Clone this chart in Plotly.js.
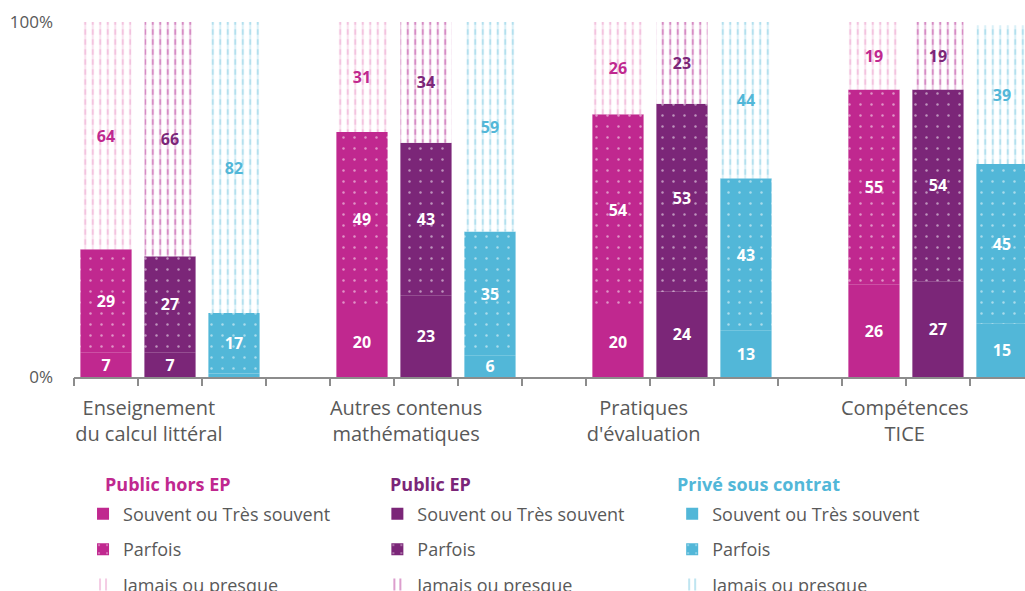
<!DOCTYPE html>
<html><head><meta charset="utf-8">
<script src="https://cdn.plot.ly/plotly-3.0.1.min.js"></script>
<style>html,body{margin:0;padding:0;background:#fff}#chart{width:1025px;height:591px}</style>
</head><body><div id="chart"></div>
<script>
const categories = ['Enseignement<br>du calcul littéral', 'Autres contenus<br>mathématiques', "Pratiques<br>d'évaluation", 'Compétences<br>TICE'];
const groupNames = ['Public hors EP', 'Public EP', 'Privé sous contrat'];
const levelNames = ['Souvent ou Très souvent', 'Parfois', 'Jamais ou presque'];

const horsEP_souvent = [7, 20, 20, 26];
const horsEP_parfois = [29, 49, 54, 55];
const horsEP_jamais  = [64, 31, 26, 19];

const EP_souvent = [7, 23, 24, 27];
const EP_parfois = [27, 43, 53, 54];
const EP_jamais  = [66, 34, 23, 19];

const prive_souvent = [1, 6, 13, 15];
const prive_parfois = [17, 35, 43, 45];
const prive_jamais  = [82, 59, 44, 39];

const yTickVals = [0, 100];
const yTickText = ['0%', '100%'];

// styling
const FONT = '"Open Sans", Lato, sans-serif';
const GRAY = '#595959';
const solid = ['#C0288F', '#7B2678', '#52B7D8'];
const light = ['#F3C3DF', '#D68CC4', '#B3E0EE'];
const series = [
  [horsEP_souvent, horsEP_parfois, horsEP_jamais],
  [EP_souvent, EP_parfois, EP_jamais],
  [prive_souvent, prive_parfois, prive_jamais]
];
const slotsPerCategory = 4;
const barWidth = 0.8;
const legendIds = ['legend', 'legend2', 'legend3'];

const traces = [];
series.forEach((sets, g) => {
  const x = categories.map((c, i) => i * slotsPerCategory + g);
  const [s, p, j] = sets;
  const baseP = s.slice();
  const baseJ = s.map((v, i) => v + p[i]);
  const lab = arr => arr.map(v => v >= 3 ? String(v) : '');
  const common = {type: 'bar', x: x, width: barWidth, legend: legendIds[g], hoverinfo: 'skip',
    textposition: 'inside', insidetextanchor: 'middle', textangle: 0, constraintext: 'none'};
  const numFont = c => ({family: FONT, size: 16, color: c, weight: 'bold'});
  traces.push(Object.assign({}, common, {
    name: levelNames[0], legendgroup: 'g' + g + 'a', y: s, base: s.map(() => 0),
    marker: {color: solid[g], line: {width: 0}},
    text: lab(s), textfont: numFont('#ffffff')
  }));
  traces.push(Object.assign({}, common, {
    name: levelNames[1], legendgroup: 'g' + g + 'b', y: p, base: baseP,
    marker: {color: solid[g], line: {width: 0},
      pattern: {shape: '.', fgcolor: '#ffffff', bgcolor: solid[g], size: 11, solidity: 0.04, fillmode: 'overlay'}},
    text: lab(p), textfont: numFont('#ffffff')
  }));
  traces.push(Object.assign({}, common, {
    name: levelNames[2], legendgroup: 'g' + g + 'c', y: j, base: baseJ,
    marker: {color: '#ffffff', line: {width: 0},
      pattern: {shape: '|', fgcolor: light[g], bgcolor: '#ffffff', size: 7.5, solidity: 0.28, fillmode: 'replace'}}
  }));
  // white horizontal breaks that turn the vertical lines into dashes, carrying the labels
  traces.push(Object.assign({}, common, {
    name: levelNames[2], showlegend: false, xaxis: 'x2', y: j, base: baseJ,
    marker: {color: 'rgba(0,0,0,0)', line: {width: 0},
      pattern: {shape: '-', fgcolor: '#ffffff', size: 10, solidity: 0.45, fillmode: 'overlay'}},
    text: lab(j), textfont: numFont(solid[g])
  }));
});

const nSlots = categories.length * slotsPerCategory;
const boundaries = [];
for (let k = 0; k < nSlots; k++) boundaries.push(k - 0.5);
const xRange = [-0.5, 14.36];

function legendDef(xpos) {
  return {x: xpos, y: -0.334, xanchor: 'left', yanchor: 'top', orientation: 'v',
    traceorder: 'grouped', tracegroupgap: 9, bgcolor: 'rgba(0,0,0,0)',
    font: {family: FONT, size: 18, color: GRAY}};
}

const titleX = [103, 388, 675];
const annotations = groupNames.map((t, g) => ({
  text: t, xref: 'paper', yref: 'paper', x: (titleX[g] - 74) / 951, y: (377 - 484) / 355,
  xanchor: 'left', yanchor: 'middle', showarrow: false,
  font: {family: FONT, size: 18, color: solid[g], weight: 'bold'}
}));

const layout = {
  width: 1025, height: 591,
  margin: {l: 74, r: 0, t: 22, b: 214, autoexpand: false},
  paper_bgcolor: '#ffffff', plot_bgcolor: '#ffffff',
  barmode: 'overlay', showlegend: true,
  font: {family: FONT, color: GRAY},
  xaxis: {range: xRange, tickmode: 'array', tickvals: [0.67, 4.69, 8.4, 12.48], ticktext: categories,
    ticks: '', showline: true, linecolor: '#8C8C8C', linewidth: 2, showgrid: false, zeroline: false,
    minor: {tickmode: 'array', tickvals: boundaries, ticks: 'outside', ticklen: 7, tickwidth: 1.5, tickcolor: '#8C8C8C', showgrid: false},
    ticklabelstandoff: 12, tickfont: {family: FONT, size: 20, color: GRAY}},
  xaxis2: {overlaying: 'x', anchor: 'y', side: 'bottom', range: xRange, tickmode: 'array', tickvals: boundaries,
    ticks: 'outside', ticklen: 7, tickwidth: 1.5, tickcolor: '#8C8C8C', showticklabels: false,
    showgrid: false, zeroline: false, showline: false},
  yaxis: {range: [0, 100], tickmode: 'array', tickvals: yTickVals, ticktext: yTickText, ticks: '',
    showgrid: true, gridcolor: '#D9D9D9', gridwidth: 1.5, zeroline: false, showline: false,
    ticklabelstandoff: 20, tickfont: {family: FONT, size: 17, color: GRAY}},
  legend: legendDef(0.0095),
  legend2: legendDef(0.319),
  legend3: legendDef(0.629),
  annotations: annotations
};

Plotly.newPlot('chart', traces, layout, {displayModeBar: false, staticPlot: true});
</script>
</body></html>
